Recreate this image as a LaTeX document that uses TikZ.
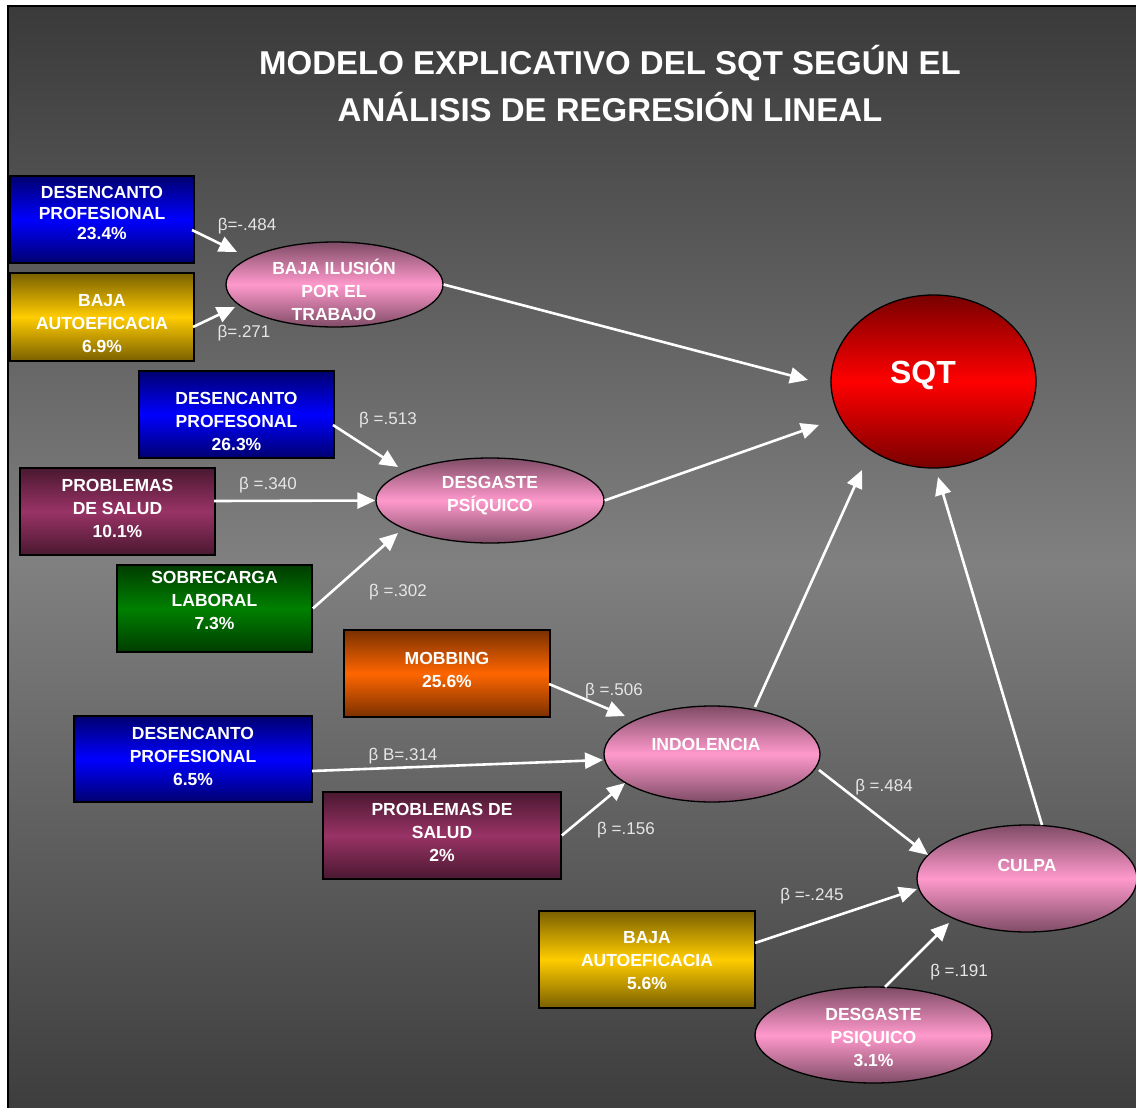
\documentclass[tikz,border=0pt]{standalone}
\usepackage{fontspec}
\setmainfont{Liberation Sans}
\usetikzlibrary{arrows.meta,shapes.geometric,calc}
\definecolor{bgtop}{HTML}{3A3A3A}
\definecolor{bgmid}{HTML}{808080}
\definecolor{bgbot}{HTML}{3C3C3C}
\definecolor{pinkmid}{HTML}{FF99CC}
\definecolor{pinkdark}{HTML}{7F4C66}
\definecolor{bluemid}{HTML}{0000FF}
\definecolor{bluedark}{HTML}{000070}
\definecolor{goldmid}{HTML}{FFCC00}
\definecolor{golddark}{HTML}{7A6000}
\definecolor{maroonmid}{HTML}{993366}
\definecolor{maroondark}{HTML}{4A1830}
\definecolor{greenmid}{HTML}{008000}
\definecolor{greendark}{HTML}{003C00}
\definecolor{orangemid}{HTML}{FF6600}
\definecolor{orangedark}{HTML}{7A3000}
\definecolor{redmid}{HTML}{FF0000}
\definecolor{reddark}{HTML}{780000}
\definecolor{betacol}{HTML}{E6E6E6}
\begin{document}
\begin{tikzpicture}[x=1pt,y=-1pt,
  box/.style={draw=black,line width=1.6pt,rectangle,inner sep=0pt},
  ell/.style={draw=black,line width=1.3pt,ellipse,inner sep=0pt,top color=pinkdark,bottom color=pinkdark,middle color=pinkmid},
  fillblue/.style={top color=bluedark,bottom color=bluedark,middle color=bluemid},
  fillgold/.style={top color=golddark,bottom color=golddark,middle color=goldmid},
  fillmaroon/.style={top color=maroondark,bottom color=maroondark,middle color=maroonmid},
  fillgreen/.style={top color=greendark,bottom color=greendark,middle color=greenmid},
  fillorange/.style={top color=orangedark,bottom color=orangedark,middle color=orangemid},
  fillred/.style={top color=reddark,bottom color=reddark,middle color=redmid},
  txt/.style={text=white,font=\bfseries\fontsize{17.5}{23}\selectfont,align=center,inner sep=0pt},
  titletxt/.style={text=white,font=\bfseries\fontsize{33}{47}\selectfont,anchor=base,inner sep=0pt},
  beta/.style={text=betacol,font=\fontsize{17}{20}\selectfont,inner sep=0pt},
  arr/.style={draw=white,line width=2.6pt,-{Triangle[length=18pt,width=16pt]}}
]
\useasboundingbox (0,0) rectangle (1136,1108);
\clip (0,0) rectangle (1136,1108);
\path[top color=bgtop,bottom color=bgbot,middle color=bgmid,draw=black,line width=1.5pt] (8,6) rectangle (1150,1120);

\node[titletxt] (title1) at (610,74.4) {MODELO EXPLICATIVO DEL SQT SEGÚN EL};
\node[titletxt] (title2) at (610,121.4) {ANÁLISIS DE REGRESIÓN LINEAL};

% boxes
\node[box,fillblue,minimum width=184pt,minimum height=87pt] (b1) at (102,219.5) {};
\node[txt,font=\bfseries\fontsize{17.5}{20.5}\selectfont] (b1t) at (102,213) {DESENCANTO\\PROFESIONAL\\23.4\%};
\node[box,fillgold,minimum width=184pt,minimum height=88pt] (b2) at (102,317) {};
\node[txt] (b2t) at (102,324) {BAJA\\AUTOEFICACIA\\6.9\%};
\node[box,fillblue,minimum width=195pt,minimum height=87pt] (b3) at (236.5,414.5) {};
\node[txt] (b3t) at (236.5,421) {DESENCANTO\\PROFESONAL\\26.3\%};
\node[box,fillmaroon,minimum width=195pt,minimum height=87pt] (b4) at (117.5,511.5) {};
\node[txt] (b4t) at (117.5,508) {PROBLEMAS\\DE SALUD\\10.1\%};
\node[box,fillgreen,minimum width=195pt,minimum height=87pt] (b5) at (214.5,608.5) {};
\node[txt] (b5t) at (214.5,600) {SOBRECARGA\\LABORAL\\7.3\%};
\node[box,fillorange,minimum width=206pt,minimum height=87pt] (b6) at (447,673.5) {};
\node[txt] (b6t) at (447,670) {MOBBING\\25.6\%};
\node[box,fillblue,minimum width=238pt,minimum height=86pt] (b7) at (193,759) {};
\node[txt] (b7t) at (193,756) {DESENCANTO\\PROFESIONAL\\6.5\%};
\node[box,fillmaroon,minimum width=238pt,minimum height=87pt] (b8) at (442,835.5) {};
\node[txt] (b8t) at (442,832) {PROBLEMAS DE\\SALUD\\2\%};
\node[box,fillgold,minimum width=216pt,minimum height=97pt] (b9) at (647,959.5) {};
\node[txt] (b9t) at (647,961) {BAJA\\AUTOEFICACIA\\5.6\%};

% ellipses
\node[ell,minimum width=217pt,minimum height=85pt] (e1) at (334.5,284.5) {};
\node[txt] (e1t) at (334,290) {BAJA ILUSIÓN\\POR EL\\TRABAJO};
\node[ell,minimum width=228pt,minimum height=85pt] (e2) at (490,500.5) {};
\node[txt] (e2t) at (490,496) {DESGASTE\\PSÍQUICO};
\node[ell,minimum width=216pt,minimum height=96pt] (e3) at (712,754) {};
\node[txt] (e3t) at (706,744) {INDOLENCIA};
\node[ell,minimum width=220pt,minimum height=107pt] (e4) at (1027,878.5) {};
\node[txt] (e4t) at (1027,865) {CULPA};
\node[ell,minimum width=237pt,minimum height=96pt] (e5) at (873.5,1035) {};
\node[txt] (e5t) at (873.5,1037) {DESGASTE\\PSIQUICO\\3.1\%};
\node[draw=black,line width=1.3pt,ellipse,inner sep=0pt,fillred,minimum width=205pt,minimum height=173pt] (sqt) at (933.5,381.5) {};
\node[txt,font=\bfseries\fontsize{32}{36}\selectfont] (sqtt) at (923,375) {SQT};

% arrows
\draw[arr] ($(b1)+(90,10.5)$) -- ($(e1)+(-97.5,-32.5)$);
\draw[arr] ($(b2)+(91,10)$) -- ($(e1)+(-99.5,22.5)$);
\draw[arr] (e1.east) -- ($(sqt)+(-125.5,-1.5)$);
\draw[arr] ($(b3)+(96.5,10.5)$) -- ($(e2)+(-92,-33.5)$);
\draw[arr] ($(b4)+(96.5,-10.5)$) -- (e2.west);
\draw[arr] (b5.east) -- ($(e2)+(-92,32.5)$);
\draw[arr] (e2.east) -- ($(sqt)+(-114.5,43.5)$);
\draw[arr] ($(b6)+(102,10.5)$) -- ($(e3)+(-87,-38)$);
\draw[arr] ($(b7)+(119,12)$) -- ($(e3)+(-109,6)$);
\draw[arr] (b8.east) -- ($(e3)+(-87,29)$);
\draw[arr] ($(e3)+(43,-47)$) -- ($(sqt)+(-71.5,88.5)$);
\draw[arr] ($(e3)+(107,16)$) -- ($(e4)+(-99,-23.5)$);
\draw[arr] ($(e4)+(15,-53.5)$) -- ($(sqt)+(4.5,95.5)$);
\draw[arr] ($(b9)+(108,-16.5)$) -- ($(e4)+(-110,10.5)$);
\draw[arr] ($(e5)+(11.5,-48)$) -- ($(e4)+(-78,44.5)$);

% beta labels
\node[beta] (l1) at (247,226) {β=-.484};
\node[beta] (l2) at (244,333) {β=.271};
\node[beta] (l3) at (388,420) {β =.513};
\node[beta] (l4) at (268,485) {β =.340};
\node[beta] (l5) at (398,592) {β =.302};
\node[beta] (l6) at (614,691) {β =.506};
\node[beta] (l7) at (403,756) {β B=.314};
\node[beta] (l8) at (626,830) {β =.156};
\node[beta] (l9) at (884,787) {β =.484};
\node[beta] (l10) at (812,896) {β =-.245};
\node[beta] (l11) at (959,972) {β =.191};
\end{tikzpicture}
\end{document}
